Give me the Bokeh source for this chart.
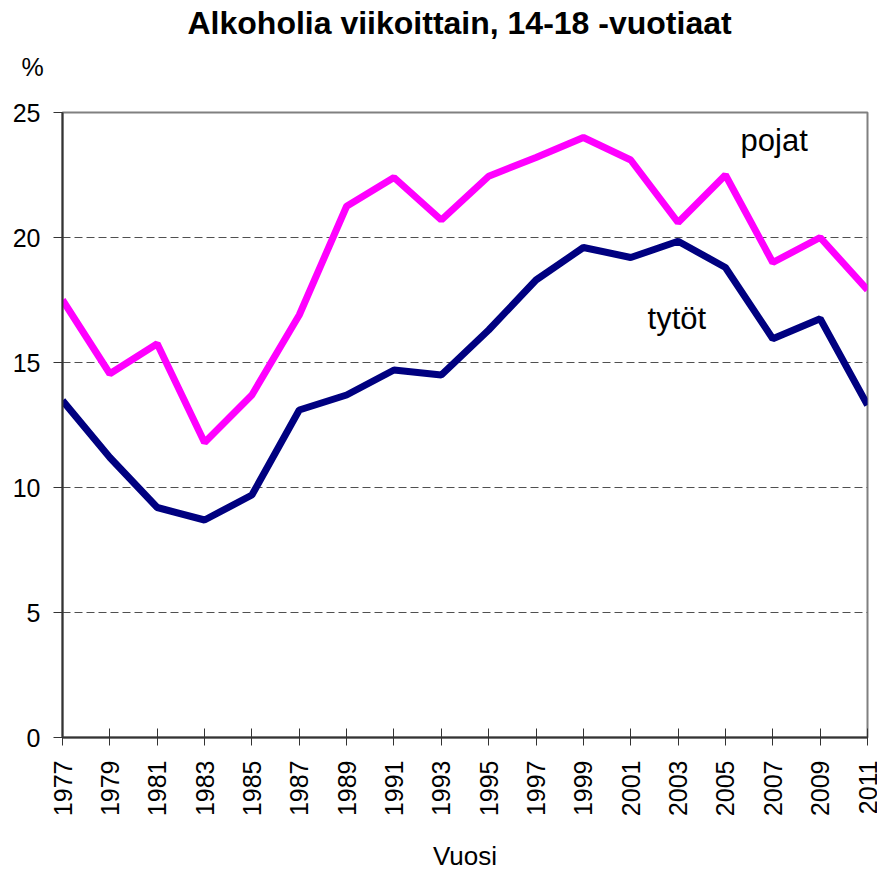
import math
from bokeh.plotting import figure
from bokeh.models import FixedTicker, Range1d, Title
from bokeh.core.properties import value
from bokeh.embed import file_html
from bokeh.resources import INLINE

years = [1977, 1979, 1981, 1983, 1985, 1987, 1989, 1991, 1993, 1995,
         1997, 1999, 2001, 2003, 2005, 2007, 2009, 2011]
pojat = [17.5, 14.55, 15.75, 11.8, 13.7, 16.9, 21.25, 22.4, 20.7, 22.45,
         23.2, 24.0, 23.1, 20.6, 22.5, 19.0, 20.0, 17.9]
tytot = [13.48, 11.2, 9.2, 8.7, 9.7, 13.1, 13.7, 14.7, 14.5, 16.3,
         18.3, 19.6, 19.2, 19.85, 18.8, 15.95, 16.75, 13.3]
y_ticks = [0, 5, 10, 15, 20, 25]
title_text = "Alkoholia viikoittain, 14-18 -vuotiaat"
x_label = "Vuosi"
y_label = "%"
series_labels = [("pojat", 2005.64, 23.9), ("tytöt", 2001.71, 16.77)]

FONT = "Liberation Sans"

p = figure(width=877, height=874, output_backend="svg", toolbar_location=None,
           x_range=Range1d(1977, 2011), y_range=Range1d(0, 25),
           min_border_left=62, min_border_right=10, min_border_bottom=136,
           min_border_top=0)

# main title (outermost above panel)
p.title.text = title_text
p.title.align = "left"
p.title.offset = 125
p.title.text_font = FONT
p.title.text_font_size = "32px"
p.title.text_font_style = "bold"
p.title.text_color = "black"
p.title.standoff = 4

# "%" unit label (above panel nearest the frame)
unit = Title(text=y_label, align="left", offset=-41, vertical_align="bottom",
             text_font=FONT, text_font_size="25px", text_font_style="normal",
             text_color="black", standoff=16,
             padding=dict(left=0, right=0, top=0, bottom=24))
p.add_layout(unit, "above")

p.background_fill_color = "white"
p.border_fill_color = "white"
p.outline_line_color = "#808080"
p.outline_line_width = 2

p.line(years, pojat, line_color="#FF00FF", line_width=7)
p.line(years, tytot, line_color="#000080", line_width=7)

for txt, x, y in series_labels:
    p.text(x=[x], y=[y], text=[txt], text_font=value(FONT), text_font_size="31px",
           text_baseline="alphabetic", text_align="left", text_color="black")

# axes
p.xaxis.ticker = FixedTicker(ticks=years)
p.yaxis.ticker = FixedTicker(ticks=y_ticks)
p.xaxis.major_label_orientation = math.pi / 2
for ax in (p.xaxis, p.yaxis):
    ax.axis_line_color = "#333333"
    ax.axis_line_width = 2
    ax.major_tick_line_color = "#333333"
    ax.major_tick_line_width = 1
    ax.minor_tick_line_color = None
    ax.major_label_text_font = FONT
    ax.major_label_text_font_size = "25px"
    ax.major_label_text_color = "black"
p.xaxis.major_tick_in = 9
p.xaxis.major_tick_out = 8
p.yaxis.major_tick_in = 0
p.yaxis.major_tick_out = 9
p.yaxis.major_label_standoff = 13
p.xaxis.major_label_standoff = 15

p.xaxis.axis_label = x_label
p.xaxis.axis_label_text_font = FONT
p.xaxis.axis_label_text_font_size = "26px"
p.xaxis.axis_label_text_font_style = "normal"
p.xaxis.axis_label_text_color = "black"
p.xaxis.axis_label_standoff = 22

p.xgrid.grid_line_color = None
p.ygrid.grid_line_color = "#505050"
p.ygrid.grid_line_dash = "8 4"
p.ygrid.grid_line_width = 1

open("out.html", "w").write(file_html(p, INLINE))
